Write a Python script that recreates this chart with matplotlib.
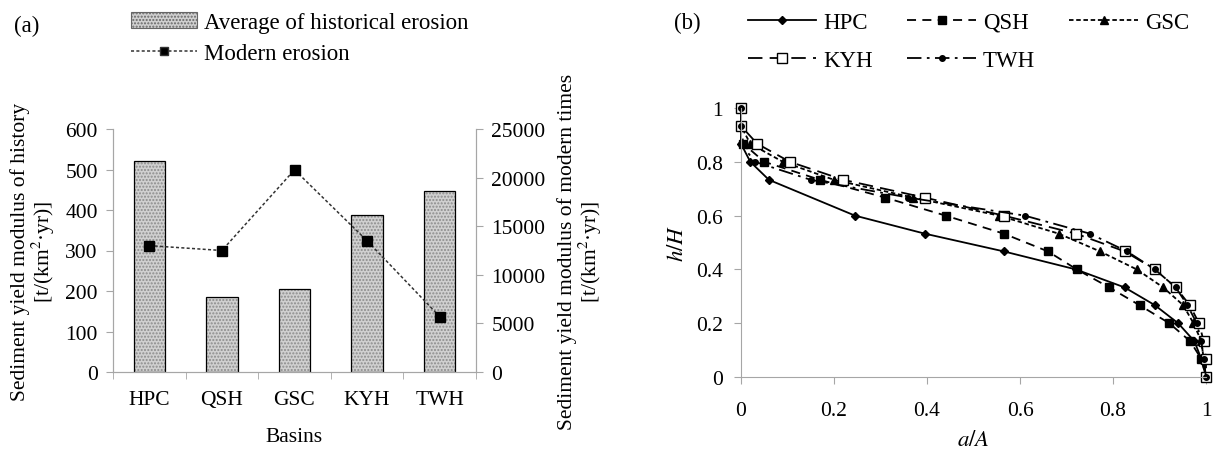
import numpy as np
from matplotlib import pyplot as plt
from matplotlib.patches import Patch
from matplotlib.lines import Line2D

plt.rcParams['font.family'] = ['Liberation Serif', 'DejaVu Serif']
plt.rcParams['mathtext.fontset'] = 'stix'

# (a) basins
basins = ["HPC", "QSH", "GSC", "KYH", "TWH"]
historical = [522, 185, 205, 388, 447]
modern = [13000, 12500, 20800, 13500, 5700]

# (b) hypsometric curves, h/H vs a/A
hpc_a = [0, 0, 0, 0.02, 0.06, 0.245, 0.395, 0.565, 0.72, 0.825, 0.89, 0.94, 0.975, 0.99, 1.0]
hpc_h = [1, 0.933, 0.867, 0.8, 0.733, 0.6, 0.533, 0.467, 0.4, 0.333, 0.267, 0.2, 0.133, 0.067, 0]
qsh_a = [0, 0, 0.005, 0.05, 0.17, 0.31, 0.44, 0.565, 0.66, 0.722, 0.792, 0.857, 0.921, 0.966, 0.99, 1.0]
qsh_h = [1, 0.933, 0.867, 0.8, 0.733, 0.667, 0.6, 0.533, 0.467, 0.4, 0.333, 0.267, 0.2, 0.133, 0.067, 0]
gsc_a = [0, 0, 0.02, 0.09, 0.2, 0.37, 0.555, 0.683, 0.772, 0.851, 0.908, 0.951, 0.973, 0.99, 0.995, 1.0]
gsc_h = [1, 0.933, 0.867, 0.8, 0.733, 0.667, 0.6, 0.533, 0.467, 0.4, 0.333, 0.267, 0.2, 0.133, 0.067, 0]
kyh_a = [0, 0, 0.035, 0.105, 0.22, 0.395, 0.565, 0.72, 0.825, 0.89, 0.935, 0.965, 0.985, 0.995, 1.0, 1.0]
kyh_h = [1, 0.933, 0.867, 0.8, 0.733, 0.667, 0.6, 0.533, 0.467, 0.4, 0.333, 0.267, 0.2, 0.133, 0.067, 0]
twh_a = [0, 0, 0, 0.03, 0.15, 0.36, 0.61, 0.75, 0.83, 0.89, 0.935, 0.96, 0.98, 0.99, 0.995, 1.0]
twh_h = [1, 0.933, 0.867, 0.8, 0.733, 0.667, 0.6, 0.533, 0.467, 0.4, 0.333, 0.267, 0.2, 0.133, 0.067, 0]

grey = '#a6a6a6'
fs = 15.5
lfs = 16.5

fig = plt.figure(figsize=(12.13, 4.52), dpi=100)

# ---------- panel (a)
ax = fig.add_axes([113 / 1213, 1 - 373 / 452, 363 / 1213, 243 / 452])
x = np.arange(len(basins))
ax.bar(x, historical, width=0.43, color='#d0d0d0', hatch='.....', edgecolor='#8c8c8c', linewidth=0)
ax.bar(x, historical, width=0.43, fill=False, edgecolor='black', linewidth=0.9)
ax.set_xlim(-0.5, 4.5)
ax.set_ylim(0, 600)
ax.set_yticks(range(0, 601, 100))
ax.set_xticks(x)
ax.set_xticklabels(basins)
ax.set_xticks(np.arange(-0.5, 4.6, 1), minor=True)
ax.tick_params(axis='x', which='major', length=0, pad=13, labelsize=fs)
ax.tick_params(axis='x', which='minor', length=5, color=grey, direction='out')
ax.tick_params(axis='y', length=5, color=grey, labelsize=fs, pad=6)
ax.set_xlabel("Basins", fontsize=fs, labelpad=13)
ax.set_ylabel("Sediment yield modulus of history\n[t/(km$^2$·yr)]", fontsize=fs,
              labelpad=6, linespacing=1.0)
for s in ['left', 'bottom', 'right']:
    ax.spines[s].set_color(grey)
ax.spines['top'].set_visible(False)

ax2 = ax.twinx()
ax2.plot(x, modern, linestyle=(0, (2, 1.5)), color='#333333', linewidth=1.1,
         marker='s', markersize=6.5, markerfacecolor='black', markeredgecolor='black')
ax2.set_ylim(0, 25000)
ax2.set_yticks(range(0, 25001, 5000))
ax2.tick_params(axis='y', length=5, color=grey, labelsize=fs, pad=6)
ax2.set_ylabel("Sediment yield modulus of modern times\n[t/(km$^2$·yr)]", fontsize=fs,
               labelpad=8, linespacing=1.0)
for s in ['left', 'bottom', 'right']:
    ax2.spines[s].set_color(grey)
ax2.spines['top'].set_visible(False)

handles_a = [Patch(facecolor='#d0d0d0', hatch='.....', edgecolor='#666666', linewidth=0.8),
             Line2D([], [], linestyle=(0, (2, 1.5)), color='#333333', linewidth=1.1,
                    marker='s', markersize=6, markerfacecolor='black')]
fig.legend(handles_a, ["Average of historical erosion", "Modern erosion"],
           loc='upper left', bbox_to_anchor=(118 / 1213, 1.0), frameon=False,
           fontsize=lfs, handlelength=2.9, handleheight=0.75, labelspacing=0.42,
           handletextpad=0.3, borderaxespad=0.15)
fig.text(27 / 1213, 1 - 26 / 452, "(a)", fontsize=lfs, ha='center', va='center')

# ---------- panel (b)
bx = fig.add_axes([741 / 1213, 1 - 378 / 452, 465 / 1213, 269 / 452])
series = [
    ("HPC", hpc_a, hpc_h, dict(linestyle='-', marker='D', markersize=4.5, markerfacecolor='black')),
    ("QSH", qsh_a, qsh_h, dict(linestyle=(0, (5, 3.5)), marker='s', markersize=5.5, markerfacecolor='black')),
    ("GSC", gsc_a, gsc_h, dict(linestyle=(0, (2.5, 1.5)), marker='^', markersize=6, markerfacecolor='black')),
    ("KYH", kyh_a, kyh_h, dict(linestyle=(0, (8, 4)), marker='s', markersize=7, markerfacecolor='white')),
    ("TWH", twh_a, twh_h, dict(linestyle=(0, (8, 3, 1.5, 3)), marker='o', markersize=4, markerfacecolor='black')),
]
lines = {}
for name, a, h, st in series:
    lines[name], = bx.plot(a, h, color='black', linewidth=1.3, markeredgecolor='black',
                           clip_on=False, label=name, **st)
bx.set_xlim(0, 1)
bx.set_ylim(0, 1)
bx.set_xticks(np.arange(0, 1.01, 0.2))
bx.set_xticklabels(["0", "0.2", "0.4", "0.6", "0.8", "1"])
bx.set_yticks(np.arange(0, 1.01, 0.2))
bx.set_yticklabels(["0", "0.2", "0.4", "0.6", "0.8", "1"])
bx.tick_params(axis='x', length=5, color=grey, labelsize=fs, pad=12)
bx.tick_params(axis='y', length=5, color=grey, labelsize=fs, pad=8)
bx.set_xlabel("$a/A$", fontsize=lfs, labelpad=7)
bx.set_ylabel("$h/H$", fontsize=lfs, labelpad=6)
for s in ['left', 'bottom']:
    bx.spines[s].set_color(grey)
for s in ['top', 'right']:
    bx.spines[s].set_visible(False)

# legend filled column-wise, so order gives rows HPC QSH GSC / KYH TWH
order = ["HPC", "KYH", "QSH", "TWH", "GSC"]
fig.legend([lines[n] for n in order], order, loc='upper left', ncol=3,
           bbox_to_anchor=(735 / 1213, 1.0), frameon=False, fontsize=lfs,
           handlelength=3.0, handletextpad=0.3, columnspacing=1.5, labelspacing=0.75,
           borderaxespad=0.15)
fig.text(687 / 1213, 1 - 23 / 452, "(b)", fontsize=lfs, ha='center', va='center')

fig.savefig("out.png", dpi=100)
